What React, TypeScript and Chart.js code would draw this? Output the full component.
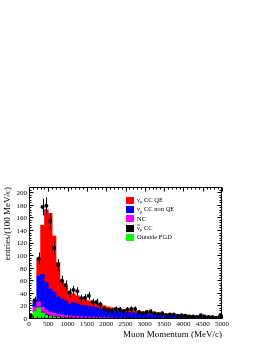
import React, { useEffect, useRef } from "react";
import { Chart, registerables } from "chart.js";

Chart.register(...registerables);

// Bin centres (MeV/c), 100 MeV/c bins from 0 to 5000
const binCenters = [
  50, 150, 250, 350, 450, 550, 650, 750, 850, 950,
  1050, 1150, 1250, 1350, 1450, 1550, 1650, 1750, 1850, 1950,
  2050, 2150, 2250, 2350, 2450, 2550, 2650, 2750, 2850, 2950,
  3050, 3150, 3250, 3350, 3450, 3550, 3650, 3750, 3850, 3950,
  4050, 4150, 4250, 4350, 4450, 4550, 4650, 4750, 4850, 4950,
];

// Stacked MC components (bottom to top)
const outsideFGD = [
  1, 12, 18, 10, 6, 4, 3, 2.5, 2, 1.5,
  1.5, 1.2, 1, 1, 0.8, 0.8, 0.7, 0.6, 0.6, 0.5,
  0.5, 0.4, 0.4, 0.4, 0.3, 0.3, 0.3, 0.3, 0.3, 0.3,
  0.2, 0.2, 0.2, 0.2, 0.2, 0.2, 0.2, 0.2, 0.2, 0.2,
  0.1, 0.1, 0.1, 0.1, 0.1, 0.1, 0.1, 0.1, 0.1, 0.1,
];
const antiNuMuCC = [
  0, 0.5, 1, 1, 1, 0.8, 0.7, 0.6, 0.5, 0.5,
  0.4, 0.4, 0.4, 0.4, 0.4, 0.4, 0.4, 0.4, 0.4, 0.4,
  0.3, 0.3, 0.3, 0.3, 0.3, 0.3, 0.3, 0.3, 0.3, 0.3,
  0.2, 0.2, 0.2, 0.2, 0.2, 0.2, 0.2, 0.2, 0.2, 0.2,
  0.2, 0.2, 0.2, 0.2, 0.2, 0.2, 0.2, 0.2, 0.2, 0.2,
];
const ncEvents = [
  0.5, 6.5, 8, 8, 7, 6.2, 5.3, 4.4, 4, 3.5,
  3.1, 2.9, 2.6, 2.2, 2.1, 1.8, 1.7, 1.6, 1.4, 1.3,
  1.2, 1.2, 1.1, 1.0, 1.0, 0.9, 0.8, 0.7, 0.6, 0.6,
  0.7, 0.7, 0.6, 0.6, 0.6, 0.5, 0.5, 0.5, 0.4, 0.4,
  0.5, 0.4, 0.4, 0.4, 0.3, 0.3, 0.3, 0.2, 0.2, 0.2,
];
const ccNonQE = [
  0.5, 8, 41, 52, 44, 37, 34, 27.5, 25.5, 23.5,
  19, 21.5, 20, 18.4, 17.7, 17, 16.2, 15.4, 13.6, 12.8,
  12, 11.1, 10.7, 10.3, 9.4, 9, 8.6, 8.2, 7.8, 7.3,
  6.9, 6.4, 6, 6, 5.5, 5.1, 5.1, 4.6, 4.2, 4.2,
  3.7, 3.8, 3.3, 3.3, 2.9, 2.9, 2.4, 2.5, 2.5, 2.0,
];
const ccQE = [
  1, 3, 28, 78, 116, 120, 89, 55, 30, 23,
  18, 14, 13, 12, 10, 9, 8, 7, 7, 6,
  5, 5, 4.5, 4, 4, 3.5, 3.5, 3.5, 3, 3,
  3, 3, 3, 2.5, 2.5, 2.5, 2, 2, 2, 1.5,
  1.5, 1.5, 1.5, 1, 1.5, 1, 1.5, 1, 1, 1,
];

// Observed data
const dataCounts = [
  5, 30, 96, 178, 180, 156, 113, 86, 61, 54,
  42, 46, 44, 33, 34, 37, 27, 27, 23, 16,
  14, 13, 16, 15, 12, 15, 16, 16, 11, 9,
  11, 12, 9, 8, 9, 6, 7, 7, 5, 6,
  5, 4, 4, 3, 6, 4, 3, 3, 2, 5,
];

// Legend entries (top to bottom)
const legendEntries = [
  { main: "ν", sub: "μ", rest: " CC QE", bar: false, color: "#ff0000" },
  { main: "ν", sub: "μ", rest: " CC non QE", bar: false, color: "#0000ff" },
  { main: "NC", sub: "", rest: "", bar: false, color: "#ff00ff" },
  { main: "ν", sub: "μ", rest: " CC", bar: true, color: "#000000" },
  { main: "Outside FGD", sub: "", rest: "", bar: false, color: "#00ff00" },
];

const FONT = "'Liberation Serif', 'Times New Roman', serif";

const errorBarPlugin = {
  id: "errorBars",
  afterDatasetsDraw(chart: any) {
    const meta = chart.getDatasetMeta(0);
    const ys = chart.scales.y;
    const ctx = chart.ctx;
    ctx.save();
    ctx.strokeStyle = "#000";
    ctx.lineWidth = 1;
    meta.data.forEach((el: any, i: number) => {
      const v = dataCounts[i];
      const e = Math.sqrt(v);
      const x = Math.round(el.x) + 0.5;
      ctx.beginPath();
      ctx.moveTo(x, ys.getPixelForValue(v + e));
      ctx.lineTo(x, ys.getPixelForValue(Math.max(0, v - e)));
      ctx.stroke();
    });
    ctx.restore();
  },
};

const framePlugin = {
  id: "rootFrame",
  afterDraw(chart: any) {
    const { ctx, chartArea: a, scales } = chart;
    const xs = scales.xm;
    const ys = scales.y;
    ctx.save();
    ctx.strokeStyle = "#000";
    ctx.lineWidth = 1;
    const L = Math.round(a.left) + 0.5;
    const R = Math.round(a.right) - 0.5;
    const T = Math.round(a.top) + 0.5;
    const B = Math.round(a.bottom) - 0.5;
    ctx.beginPath();
    ctx.rect(L, T, R - L, B - T);
    ctx.stroke();
    ctx.beginPath();
    for (let v = 0; v <= 5000; v += 100) {
      const x = Math.round(xs.getPixelForValue(v)) + 0.5;
      const len = v % 500 === 0 ? 4 : 2;
      ctx.moveTo(x, B);
      ctx.lineTo(x, B - len);
      ctx.moveTo(x, T);
      ctx.lineTo(x, T + len);
    }
    for (let v = 0; v <= 208; v += 4) {
      const y = Math.round(ys.getPixelForValue(v)) - 0.5;
      const len = v % 20 === 0 ? 4 : 2;
      ctx.moveTo(L, y);
      ctx.lineTo(L + len, y);
      ctx.moveTo(R, y);
      ctx.lineTo(R - len, y);
    }
    ctx.stroke();

    // Legend
    const boxX = 126;
    const textX = 137;
    const y0 = a.top + 13.3;
    const dy = 9.33;
    ctx.textBaseline = "middle";
    ctx.textAlign = "left";
    legendEntries.forEach((en, i) => {
      const cy = y0 + i * dy;
      ctx.fillStyle = en.color;
      ctx.fillRect(boxX, Math.round(cy - 3.5), 8, 7);
      ctx.fillStyle = "#000";
      ctx.font = `6.5px ${FONT}`;
      let x = textX;
      ctx.fillText(en.main, x, cy);
      const mw = ctx.measureText(en.main).width;
      if (en.bar) {
        ctx.beginPath();
        ctx.lineWidth = 0.7;
        ctx.moveTo(x, cy - 3.2);
        ctx.lineTo(x + mw, cy - 3.2);
        ctx.stroke();
      }
      x += mw;
      if (en.sub) {
        ctx.font = `4.5px ${FONT}`;
        ctx.fillText(en.sub, x, cy + 2);
        x += ctx.measureText(en.sub).width;
        ctx.font = `6.5px ${FONT}`;
      }
      if (en.rest) ctx.fillText(en.rest, x, cy);
    });
    ctx.restore();
  },
};

export default function App() {
  const ref = useRef<HTMLCanvasElement | null>(null);
  useEffect(() => {
    if (!ref.current) return;
    const barDs = (label: string, data: number[], color: string) => ({
      type: "bar" as const,
      label,
      data,
      backgroundColor: color,
      borderWidth: 0,
      barPercentage: 1,
      categoryPercentage: 1,
      grouped: false,
      stack: "mc",
      xAxisID: "x",
      yAxisID: "y",
    });
    const chart = new Chart(ref.current, {
      type: "bar",
      data: {
        labels: binCenters.map(String),
        datasets: [
          {
            type: "scatter" as const,
            label: "Data",
            data: binCenters.map((c, i) => ({ x: c, y: dataCounts[i] })),
            backgroundColor: "#000",
            borderColor: "#000",
            pointRadius: 2,
            pointBorderWidth: 0,
            showLine: false,
            xAxisID: "xm",
            yAxisID: "y",
          } as any,
          barDs("Outside FGD", outsideFGD, "#00ff00"),
          barDs("anti-numu CC", antiNuMuCC, "#000000"),
          barDs("NC", ncEvents, "#ff00ff"),
          barDs("numu CC non QE", ccNonQE, "#0000ff"),
          barDs("numu CC QE", ccQE, "#ff0000"),
        ],
      },
      options: {
        responsive: false,
        animation: false,
        devicePixelRatio: 1,
        layout: { padding: { top: 187, right: 46, left: 0, bottom: 0 } },
        plugins: {
          legend: { display: false },
          tooltip: { enabled: false },
        },
        scales: {
          x: {
            type: "category",
            display: false,
            stacked: true,
            offset: true,
            grid: { display: false },
          },
          xm: {
            type: "linear",
            position: "bottom",
            min: 0,
            max: 5000,
            offset: false,
            grid: { display: false, drawTicks: false, offset: false },
            border: { display: false },
            ticks: {
              stepSize: 500,
              autoSkip: false,
              maxRotation: 0,
              includeBounds: false,
              padding: 1,
              color: "#000",
              font: { family: FONT, size: 7 },
              callback: (v: any) => String(v),
            },
            title: {
              display: true,
              text: "Muon Momentum (MeV/c)",
              align: "end",
              color: "#000",
              font: { family: FONT, size: 9 },
              padding: { top: 0, bottom: 6 },
            },
            afterFit: (s: any) => {
              s.height = 27;
            },
          } as any,
          y: {
            stacked: true,
            min: 0,
            max: 210,
            grid: { display: false, drawTicks: false },
            border: { display: false },
            ticks: {
              stepSize: 20,
              includeBounds: false,
              padding: 2,
              color: "#000",
              font: { family: FONT, size: 7 },
              callback: (v: any) => String(v),
            },
            title: {
              display: true,
              text: "entries/(100 MeV/c)",
              align: "end",
              color: "#000",
              font: { family: FONT, size: 9 },
              padding: { top: 2, bottom: 0 },
            },
            afterFit: (s: any) => {
              s.width = 29;
            },
          } as any,
        },
      },
      plugins: [errorBarPlugin, framePlugin],
    });
    return () => chart.destroy();
  }, []);
  return (
    <div style={{ position: "fixed", left: 0, top: 0, width: 268, height: 346, background: "#fff" }}>
      <canvas ref={ref} width={268} height={346} style={{ display: "block", width: 268, height: 346 }} />
    </div>
  );
}
